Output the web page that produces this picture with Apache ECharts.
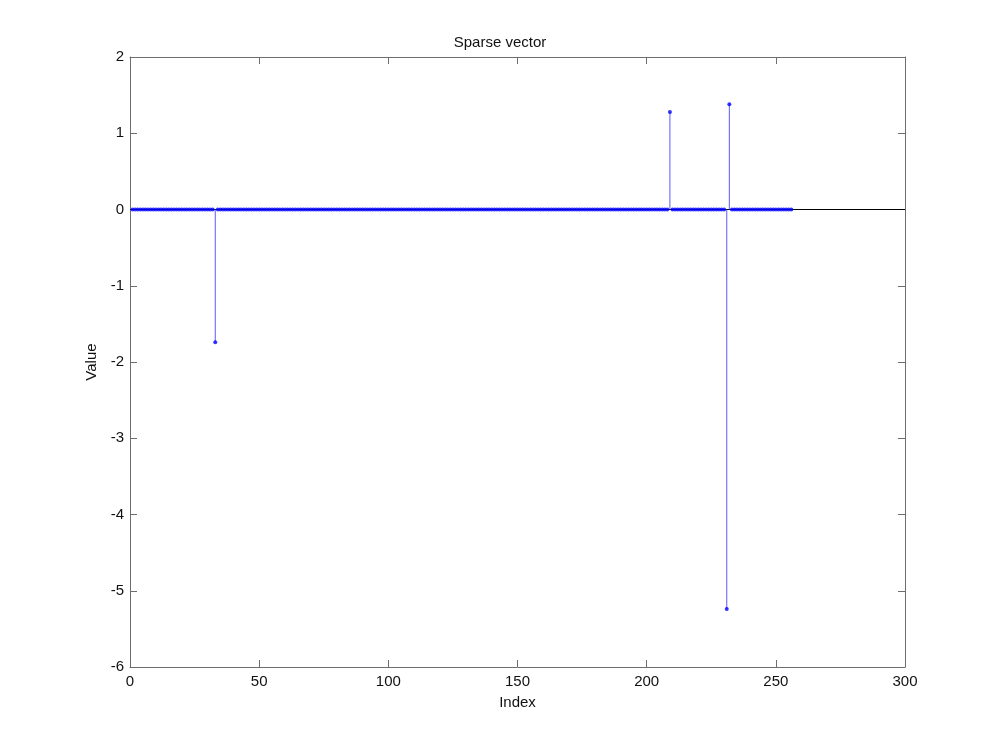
<!DOCTYPE html>
<html>
<head>
<meta charset="utf-8">
<script src="https://cdn.jsdelivr.net/npm/echarts@6/dist/echarts.min.js"></script>
<style>html,body{margin:0;padding:0;background:#fff}#c{width:1000px;height:750px}</style>
</head>
<body>
<div id="c"></div>
<script>
var titleText = 'Sparse vector';
var xName = 'Index';
var yName = 'Value';
var xTicks = [0, 50, 100, 150, 200, 250, 300];
var yTicks = [-6, -5, -4, -3, -2, -1, 0, 1, 2];
// values at index 1..256
var values = [
  0,0,0,0,0,0,0,0,0,0,0,0,0,0,0,0,
  0,0,0,0,0,0,0,0,0,0,0,0,0,0,0,0,
  -1.74,0,0,0,0,0,0,0,0,0,0,0,0,0,0,0,
  0,0,0,0,0,0,0,0,0,0,0,0,0,0,0,0,
  0,0,0,0,0,0,0,0,0,0,0,0,0,0,0,0,
  0,0,0,0,0,0,0,0,0,0,0,0,0,0,0,0,
  0,0,0,0,0,0,0,0,0,0,0,0,0,0,0,0,
  0,0,0,0,0,0,0,0,0,0,0,0,0,0,0,0,
  0,0,0,0,0,0,0,0,0,0,0,0,0,0,0,0,
  0,0,0,0,0,0,0,0,0,0,0,0,0,0,0,0,
  0,0,0,0,0,0,0,0,0,0,0,0,0,0,0,0,
  0,0,0,0,0,0,0,0,0,0,0,0,0,0,0,0,
  0,0,0,0,0,0,0,0,0,0,0,0,0,0,0,0,
  1.28,0,0,0,0,0,0,0,0,0,0,0,0,0,0,0,
  0,0,0,0,0,0,-5.24,1.38,0,0,0,0,0,0,0,0,
  0,0,0,0,0,0,0,0,0,0,0,0,0,0,0,0
];

var pts = values.map(function (v, i) { return [i + 1, v]; });
var xMin = xTicks[0], xMax = xTicks[xTicks.length - 1];
var yMin = yTicks[0], yMax = yTicks[yTicks.length - 1];
var font = 'Liberation Sans, Arial, sans-serif';

function axisCommon(show, margin) {
  return {
    axisLine: { show: true, onZero: false, lineStyle: { color: '#6e6e6e', width: 1 } },
    axisTick: { show: true, inside: true, length: 7, lineStyle: { color: '#6e6e6e' } },
    axisLabel: { show: show, color: '#111', fontSize: 15, fontFamily: font, margin: margin || 7 },
    splitLine: { show: false }
  };
}

var chart = echarts.init(document.getElementById('c'), null, { renderer: 'canvas' });

chart.setOption({
  animation: false,
  backgroundColor: '#fff',
  title: {
    text: titleText, left: 'center', top: 30,
    textStyle: { color: '#111', fontSize: 15, fontWeight: 'normal', fontFamily: font }
  },
  grid: { left: 130, right: 95, top: 57, bottom: 83, containLabel: false },
  xAxis: [
    Object.assign({ type: 'value', position: 'bottom', min: xMin, max: xMax, interval: 50,
      name: xName, nameLocation: 'middle', nameGap: 28,
      nameTextStyle: { color: '#111', fontSize: 15, fontFamily: font } }, axisCommon(true, 7)),
    Object.assign({ type: 'value', position: 'top', min: xMin, max: xMax, interval: 50 }, axisCommon(false))
  ],
  yAxis: [
    Object.assign({ type: 'value', position: 'left', min: yMin, max: yMax, interval: 1,
      name: yName, nameLocation: 'middle', nameGap: 30, nameRotate: 90,
      nameTextStyle: { color: '#111', fontSize: 15, fontFamily: font } }, axisCommon(true, 6)),
    Object.assign({ type: 'value', position: 'right', min: yMin, max: yMax, interval: 1 }, axisCommon(false))
  ],
  series: [
    {
      type: 'line', data: [[xMin, 0], [xMax, 0]], symbol: 'none', silent: true,
      lineStyle: { color: '#000', width: 1 }, z: 1
    },
    {
      type: 'custom', data: pts, z: 2, silent: true,
      renderItem: function (params, api) {
        var p0 = api.coord([api.value(0), 0]);
        var p1 = api.coord([api.value(0), api.value(1)]);
        return {
          type: 'line',
          shape: { x1: p0[0], y1: p0[1], x2: p1[0], y2: p1[1] },
          style: { stroke: '#5a5aff', lineWidth: 1 }
        };
      }
    },
    {
      type: 'scatter', data: pts, symbol: 'circle', symbolSize: 4, z: 3,
      itemStyle: { color: '#0000ff' }
    }
  ]
});
</script>
</body>
</html>
